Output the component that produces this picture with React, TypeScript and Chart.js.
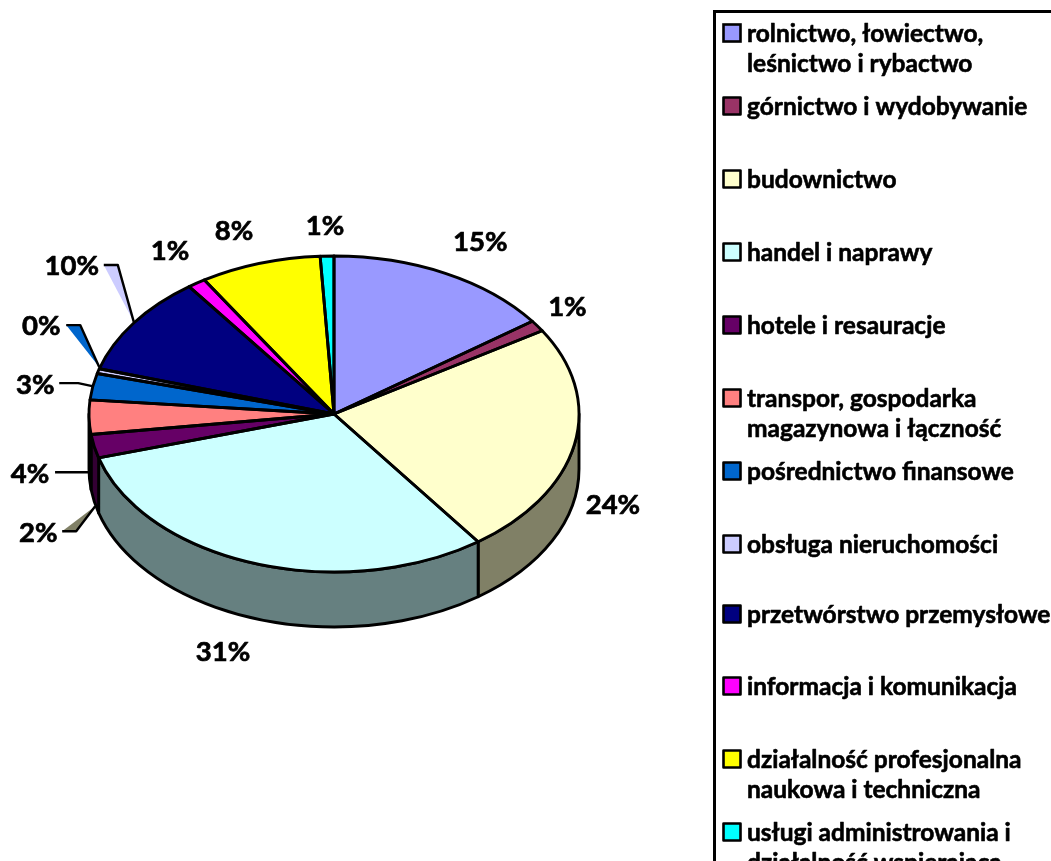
import React, { useEffect, useRef } from "react";
import { Chart, registerables } from "chart.js";

Chart.register(...registerables);

const categories = [
  "rolnictwo, łowiectwo,|leśnictwo i rybactwo",
  "górnictwo i wydobywanie",
  "budownictwo",
  "handel i naprawy",
  "hotele i resauracje",
  "transpor, gospodarka|magazynowa i łączność",
  "pośrednictwo finansowe",
  "obsługa nieruchomości",
  "przetwórstwo przemysłowe",
  "informacja i komunikacja",
  "działalność profesjonalna|naukowa i techniczna",
  "usługi administrowania i|działalność wspierająca",
];
const shares = [15, 1.15, 23.8, 30.5, 2.4, 3.5, 2.7, 0.49, 10.3, 1.2, 7.96, 0.9];
const fills = ["#9999FF", "#993366", "#FFFFCC", "#CCFFFF", "#660066", "#FF8080", "#0066CC", "#CCCCFF", "#000080", "#FF00FF", "#FFFF00", "#00FFFF"];
const walls = ["#4D4D80", "#4D1A33", "#808066", "#668080", "#330033", "#000000", "#003366", "#666680", "#000040", "#800080", "#808000", "#008080"];
const labelOffsets = [[35, -32], [30, -20], [38.5, 60], [-31.5, 88], [-56, 86], [-59, 56], [-57.5, -2.4], [-57, -46], [-62, -58], [-26.6, -32.6], [-26, -33], [-2, -31]];
const leaders: Record<number, { pts: number[][]; fill?: string }> = {
  4: { pts: [[24, -1], [38, -1], [57, -26]], fill: "#808066" },
  5: { pts: [[25, -1], [60, -1]] },
  6: { pts: [[24, -1], [43, -1], [57, 2]] },
  7: { pts: [[25, 0], [39, 0], [58, 42]], fill: "#0066CC" },
  8: { pts: [[32, 0], [46, 0], [62, 57]], fill: "#CCCCFF" },
};
const legendTops = [24, 97, 170, 243, 316, 389, 462, 535, 605, 677, 750, 823];

const SQUASH = 158 / 245;
const DEPTH = 55;
const FONT = "Lato, Carlito, sans-serif";
const LINE = 2.9;

function boldText(ctx: CanvasRenderingContext2D, text: string, x: number, y: number, weight: number) {
  ctx.lineWidth = weight;
  ctx.strokeStyle = "#000";
  ctx.lineJoin = "round";
  ctx.strokeText(text, x, y);
  ctx.fillText(text, x, y);
}

const pie3d = {
  id: "pie3d",
  beforeDatasetsDraw(chart: any) {
    const ctx = chart.ctx;
    const arcs = chart.getDatasetMeta(0).data;
    const { x: cx, y: cy, outerRadius: r } = arcs[0];
    const ry = r * SQUASH;
    ctx.save();
    ctx.lineWidth = LINE;
    ctx.strokeStyle = "#000";
    ctx.lineJoin = "round";
    arcs.forEach((a: any, i: number) => {
      const s = Math.max(a.startAngle, 0);
      const e = Math.min(a.endAngle, Math.PI);
      if (e <= s) return;
      ctx.beginPath();
      ctx.ellipse(cx, cy, r, ry, 0, s, e);
      ctx.ellipse(cx, cy + DEPTH, r, ry, 0, e, s, true);
      ctx.closePath();
      ctx.fillStyle = walls[i];
      ctx.fill();
      ctx.stroke();
    });
    ctx.restore();
    ctx.save();
    ctx.translate(cx, cy);
    ctx.scale(1, SQUASH);
    ctx.translate(-cx, -cy);
  },
  afterDatasetsDraw(chart: any) {
    const ctx = chart.ctx;
    ctx.restore();
    const arcs = chart.getDatasetMeta(0).data;
    const { x: cx, y: cy, outerRadius: r } = arcs[0];
    const ry = r * SQUASH;
    ctx.save();
    ctx.lineWidth = LINE;
    ctx.strokeStyle = "#000";
    ctx.lineJoin = "round";
    arcs.forEach((a: any) => {
      ctx.beginPath();
      ctx.moveTo(cx, cy);
      ctx.ellipse(cx, cy, r, ry, 0, a.startAngle, a.endAngle);
      ctx.closePath();
      ctx.stroke();
    });

    // percentage labels and their leaders
    const values = chart.data.datasets[0].data as number[];
    const total = values.reduce((p, v) => p + v, 0);
    ctx.textAlign = "center";
    ctx.textBaseline = "middle";
    arcs.forEach((a: any, i: number) => {
      const mid = (a.startAngle + a.endAngle) / 2;
      const lx = cx + r * Math.cos(mid) + labelOffsets[i][0];
      const ly = cy + ry * Math.sin(mid) + labelOffsets[i][1];
      const lead = leaders[i];
      if (lead) {
        const p = lead.pts.map(([dx, dy]) => [lx + dx, ly + dy]);
        if (lead.fill) {
          ctx.beginPath();
          p.forEach(([x, y], k) => (k ? ctx.lineTo(x, y) : ctx.moveTo(x, y)));
          ctx.closePath();
          ctx.fillStyle = lead.fill;
          ctx.fill();
        }
        ctx.beginPath();
        p.forEach(([x, y], k) => (k ? ctx.lineTo(x, y) : ctx.moveTo(x, y)));
        ctx.lineWidth = 2.4;
        ctx.strokeStyle = "#000";
        ctx.stroke();
      }
      ctx.fillStyle = "#000";
      ctx.font = `bold 27.5px ${FONT}`;
      boldText(ctx, `${Math.round((values[i] / total) * 100)}%`, lx, ly + 1, 0.7);
    });
    ctx.restore();
  },
  afterDraw(chart: any) {
    const ctx = chart.ctx;
    ctx.save();
    ctx.strokeStyle = "#000";
    ctx.lineWidth = 3;
    ctx.strokeRect(714.5, 11.5, 500, 1000);
    ctx.textAlign = "left";
    ctx.textBaseline = "alphabetic";
    ctx.font = `bold 24.5px ${FONT}`;
    (chart.data.labels as string[]).forEach((label, i) => {
      const top = legendTops[i];
      ctx.fillStyle = fills[i];
      ctx.fillRect(723.5, top + 0.5, 17, 17);
      ctx.lineWidth = 2.6;
      ctx.strokeStyle = "#000";
      ctx.strokeRect(723.5, top + 0.5, 17, 17);
      ctx.fillStyle = "#000";
      label.split("|").forEach((line, k) => boldText(ctx, line, 747, top + 18 + k * 30, 0.6));
    });
    ctx.restore();
  },
};

export default function App() {
  const ref = useRef<HTMLCanvasElement>(null);
  useEffect(() => {
    document.body.style.margin = "0";
    document.body.style.background = "#fff";
    const chart = new Chart(ref.current!, {
      type: "pie",
      data: {
        labels: categories,
        datasets: [{ data: shares, backgroundColor: fills, borderWidth: 0, clip: false as any }],
      },
      options: {
        responsive: false,
        animation: false,
        layout: { padding: { left: 89, right: 472, top: 169, bottom: 202 } },
        plugins: { legend: { display: false }, tooltip: { enabled: false } },
      },
      plugins: [pie3d],
    });
    return () => chart.destroy();
  }, []);
  return <canvas ref={ref} width={1051} height={861} style={{ display: "block", width: 1051, height: 861 }} />;
}
